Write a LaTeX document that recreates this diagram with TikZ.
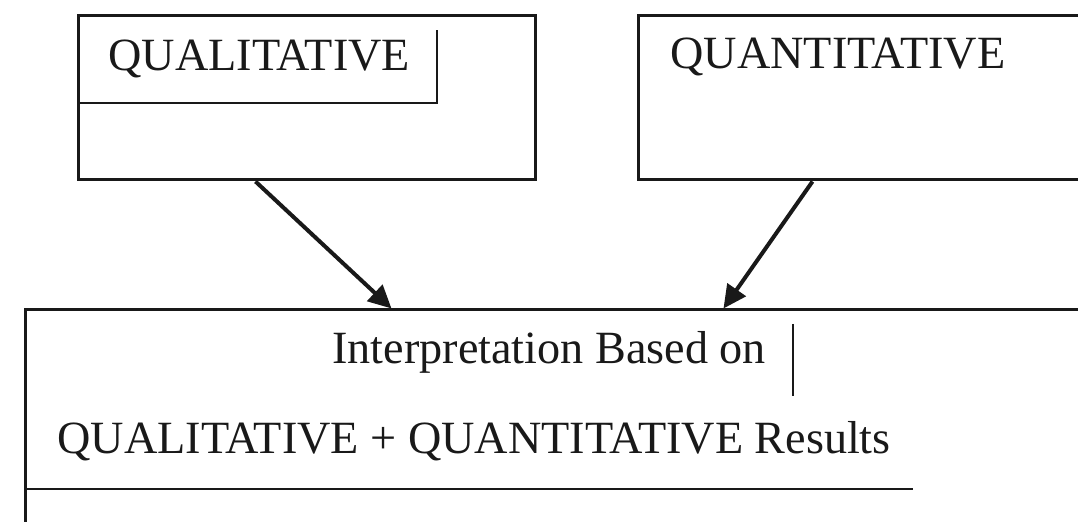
\documentclass[tikz,border=0pt]{standalone}
\usepackage{fontspec}
\setmainfont{Liberation Serif}
\usetikzlibrary{arrows.meta,fit,calc}
\tikzset{
  box/.style={draw=black!90, line width=1.5pt, inner sep=0pt, fill=none},
  thin/.style={draw=black!90, line width=0.7pt},
  label/.style={anchor=base west, inner sep=0pt, font=\fontsize{23.1}{27}\selectfont, text=black!90},
  conn/.style={draw=black!90, line width=2pt, -{Triangle[length=11.5pt,width=11pt]}}
}
\begin{document}
\begin{tikzpicture}[x=0.5pt,y=-0.5pt]
\useasboundingbox (0,0) rectangle (1078,522);
\clip (0,0) rectangle (1078,522);
% boxes
\node[box, fit={(78,16)(535,180)}] (qual) {};
\node[box, fit={(638,16)(1100,180)}] (quan) {};
\node[box, fit={(25,310)(1100,560)}] (interp) {};
% texts
\node[label] (qualtext) at (108,71) {QUALITATIVE};
\node[label] (quantext) at (670,69) {QUANTITATIVE};
\node[label] (interp1) at (332,364) {Interpretation Based on};
\node[label] (interp2) at (57,454) {QUALITATIVE + QUANTITATIVE Results};
% inner thin lines
\coordinate (qa) at (80,103);
\coordinate (qb) at (437,103);
\coordinate (qc) at (437,30);
\draw[thin] (qa) -- (qb) -- (qc);
\coordinate (ia) at (793,324);
\coordinate (ib) at (793,396);
\draw[thin] (ia) -- (ib);
\coordinate (ic) at (27,489);
\coordinate (id) at (913,489);
\draw[thin] (ic) -- (id);
% connectors
\draw[conn] ($(qual.south west)+(179,0)$) -- ($(interp.north west)+(368,0)$);
\draw[conn] ($(quan.south west)+(176,0)$) -- ($(interp.north west)+(700,0)$);
\end{tikzpicture}
\end{document}
